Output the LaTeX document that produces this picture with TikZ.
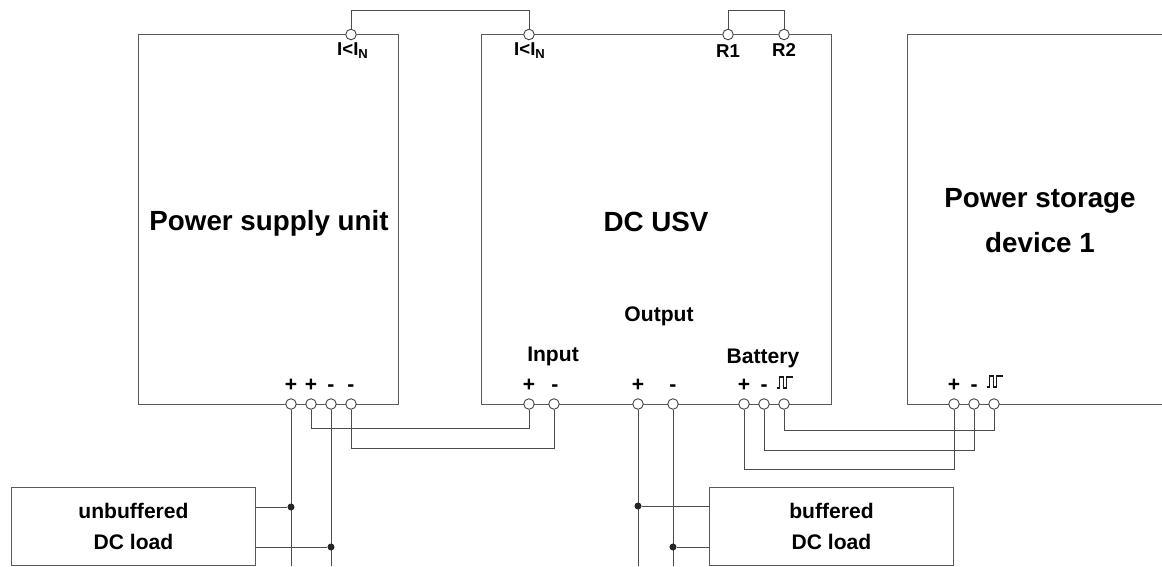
\documentclass[tikz,border=0pt]{standalone}
\usepackage{fontspec}
\setmainfont{Liberation Sans}
\colorlet{wirecol}{black!65}
\tikzset{
	term/.style={circle,draw=black!75,fill=white,line width=0.5pt,inner sep=0pt,minimum size=6pt},
	joint/.style={circle,fill=black!85,inner sep=0pt,minimum size=4pt},
	lab/.style={font=\bfseries\fontsize{12}{14}\selectfont,inner sep=0pt},
	toplab/.style={font=\bfseries\fontsize{10.6}{13}\selectfont,inner sep=0pt},
	title/.style={font=\bfseries\fontsize{15.8}{25.2}\selectfont,align=center,inner sep=0pt},
	unit/.style={draw=wirecol,line width=0.55pt,inner sep=0pt,anchor=north west},
	load/.style={unit,font=\bfseries\fontsize{12}{17.6}\selectfont,align=center,minimum width=244*0.02cm,minimum height=78*0.02cm},
	wire/.style={draw=black!70,line width=0.55pt},
	pulse/.style={draw=black!90,line width=0.75pt}
}
\begin{document}
\begin{tikzpicture}[x=0.02cm,y=-0.02cm]
	\useasboundingbox (0,0) rectangle (1162,566);
	\def\pulsepath{-- ++(3,0) -- ++(0,-11) -- ++(4,0) -- ++(0,11) -- ++(3,0) -- ++(0,-11) -- ++(6,0)}
	% units
	\node[unit,minimum width=260*0.02cm,minimum height=370*0.02cm] (psu) at (138,34) {};
	\node[unit,minimum width=350*0.02cm,minimum height=370*0.02cm] (usv) at (481,34) {};
	\draw[wirecol,line width=0.55pt] (1162,34.4) -| (907.4,404.4) -- (1162,404.4);
	\node[load] (unb) at (11,487) {unbuffered\\DC load};
	\node[load] (buf) at (709,487) {buffered\\DC load};
	\node[title] (psutxt) at (269,223) {Power supply unit};
	\node[title] (usvtxt) at (656,222) {DC USV};
	\node[title] (stotxt) at (1040,220.5) {Power storage\\device 1};
	% terminals
	\foreach \n/\x in {ta/351,tb/529,ra/728,rb/784}
		\node[term] (\n) at (\x,34.5) {};
	\foreach \n/\x in {pa/291,pb/311,pc/331,pd/351,ia/529,ib/554,oa/638,ob/673,ba/744,bb/764,bc/784,sa/954,sb/974,sc/994}
		\node[term] (\n) at (\x,404) {};
	% signs
	\foreach \n/\s/\x in {sp1/+/291,sp2/+/311,sp3/-/331,sp4/-/351,si1/+/529,si2/-/555,so1/+/638,so2/-/673,sb1/+/744,sb2/-/764,ss1/+/954,ss2/-/974}
		\node[lab,anchor=base] (\n) at (\x,391) {\s};
	\node[lab] (inp) at (553,356) {Input};
	\node[lab] (outp) at (659,316) {Output};
	\node[lab] (batt) at (763,358) {Battery};
	\node[toplab] (la) at (353,51) {I<I\textsubscript{N}};
	\node[toplab] (lb) at (530,51) {I<I\textsubscript{N}};
	\node[toplab] (lc) at (728,51) {R1};
	\node[toplab] (ld) at (784,50) {R2};
	\draw[pulse] (776.5,388) \pulsepath;
	\draw[pulse] (986.5,387) \pulsepath;
	% wires
	\draw[wire] (ta) |- (tb |- 0,10) -- (tb);
	\draw[wire] (ra) |- (rb |- 0,10) -- (rb);
	\draw[wire] (pb) |- (ia |- 0,428) -- (ia);
	\draw[wire] (pd) |- (ib |- 0,448) -- (ib);
	\draw[wire] (bc) |- (sc |- 0,430) -- (sc);
	\draw[wire] (bb) |- (sb |- 0,450) -- (sb);
	\draw[wire] (ba) |- (sa |- 0,469) -- (sa);
	% loads
	\coordinate (ea) at (291,566);
	\coordinate (eb) at (331,566);
	\coordinate (ec) at (638,566);
	\coordinate (ed) at (673,566);
	\draw[wire] (pa) -- (ea);
	\draw[wire] (pc) -- (eb);
	\draw[wire] (oa) -- (ec);
	\draw[wire] (ob) -- (ed);
	\node[joint] (ja) at (291,507) {};
	\node[joint] (jb) at (331,547) {};
	\node[joint] (jc) at (638,506) {};
	\node[joint] (jd) at (673,547) {};
	\draw[wire] (ja) -- (ja -| unb.east);
	\draw[wire] (jb) -- (jb -| unb.east);
	\draw[wire] (jc) -- (jc -| buf.west);
	\draw[wire] (jd) -- (jd -| buf.west);
\end{tikzpicture}
\end{document}
